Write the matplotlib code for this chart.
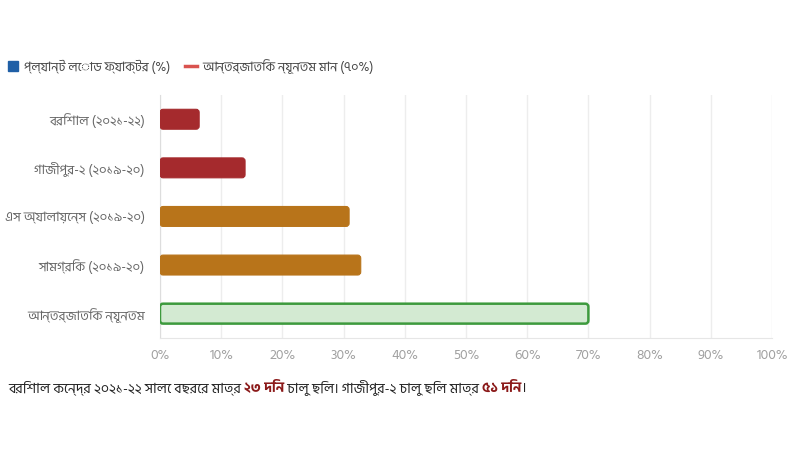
import matplotlib
matplotlib.use("Agg")
import matplotlib.pyplot as plt
from matplotlib import font_manager
from matplotlib.patches import FancyBboxPatch
from matplotlib.lines import Line2D

categories = ["বরিশাল (২০২১-২২)", "গাজীপুর-২ (২০১৯-২০)", "এস অ্যালায়েন্স (২০১৯-২০)",
              "সামগ্রিক (২০১৯-২০)", "আন্তর্জাতিক ন্যূনতম"]
values = [6.4, 13.9, 30.9, 32.8, 70]
bar_colors = ["#a52a2d", "#a52a2d", "#b8741a", "#b8741a", "#d3ead2"]
edge_colors = ["#a52a2d", "#a52a2d", "#b8741a", "#b8741a", "#3d9a3d"]
x_ticks = list(range(0, 101, 10))
legend_labels = ["প্ল্যান্ট লোড ফ্যাক্টর (%)", "আন্তর্জাতিক ন্যূনতম মান (৭০%)"]
caption_parts = [("বরিশাল কেন্দ্র ২০২১-২২ সালে বছরের মাত্র ", False), ("২৩ দিন", True),
                 (" চালু ছিল। গাজীপুর-২ চালু ছিল মাত্র ", False), ("৫১ দিন", True), ("।", False)]

# register a Bengali font (Hind Siliguri if present)
beng = None
for f in font_manager.findSystemFonts():
    name = f.split("/")[-1]
    if name.startswith("HindSiliguri-"):
        font_manager.fontManager.addfont(f)
        beng = "Hind Siliguri"
if beng is None:
    for f in font_manager.findSystemFonts():
        if "Lohit-Bengali" in f:
            font_manager.fontManager.addfont(f)
            beng = font_manager.FontProperties(fname=f).get_name()
plt.rcParams["font.family"] = [beng, "DejaVu Sans"] if beng else ["DejaVu Sans"]

fig = plt.figure(figsize=(8, 4.5), dpi=100)
ax = fig.add_axes([0.2, 0.249, 0.765, 0.54])

n = len(categories)
ax.set_xlim(0, 100)
ax.set_ylim(n - 0.5, -0.5)
ax.set_yticks(range(n))
ax.set_yticklabels(categories, color="#666666", fontsize=9.5)
ax.set_xticks(x_ticks)
ax.set_xticklabels([f"{t}%" for t in x_ticks], color="#a0a0a0", fontsize=10)
ax.tick_params(axis="y", length=0, pad=11)
ax.tick_params(axis="x", length=0, pad=8)
ax.grid(axis="x", color="#ededed", linewidth=1)
ax.set_axisbelow(True)
for s in ["top", "right"]:
    ax.spines[s].set_visible(False)
ax.spines["left"].set_color("#dddddd")
ax.spines["bottom"].set_color("#e6e6e6")

# rounded bars; the aspect corrects corner rounding for unequal x/y scales
h = 0.41
px_x = ax.bbox.width / 100
px_y = ax.bbox.height / n
for i, (v, fc, ec) in enumerate(zip(values, bar_colors, edge_colors)):
    lw = 1.8 if i == n - 1 else 0.8
    p = FancyBboxPatch((0, i - h / 2), v, h,
                       boxstyle="round,pad=0,rounding_size=0.5",
                       mutation_aspect=px_x / px_y,
                       facecolor=fc, edgecolor=ec, linewidth=lw, zorder=3)
    ax.add_patch(p)

# legend
handles = [Line2D([], [], marker="s", color="none", markerfacecolor="#1f5fa6",
                  markeredgecolor="#1f5fa6", markersize=7),
           Line2D([], [], color="#d9534f", linewidth=2.5)]
fig.legend(handles, legend_labels, loc="center left", bbox_to_anchor=(-0.006, 0.853),
           ncol=2, frameon=False, fontsize=9.3, handlelength=0.9, handletextpad=0.4,
           columnspacing=1.2, labelcolor="#444444")

# caption with bold parts placed one after another
fig.canvas.draw()
r = fig.canvas.get_renderer()
x = 8 / 800
for txt, bold in caption_parts:
    t = fig.text(x, 1 - 388 / 450, txt, fontsize=10.2, va="center", ha="left",
                 color="#8b1a1a" if bold else "#222222",
                 fontweight="bold" if bold else "normal")
    bb = t.get_window_extent(renderer=r)
    x += bb.width / fig.bbox.width

fig.savefig("out.png", dpi=100)
